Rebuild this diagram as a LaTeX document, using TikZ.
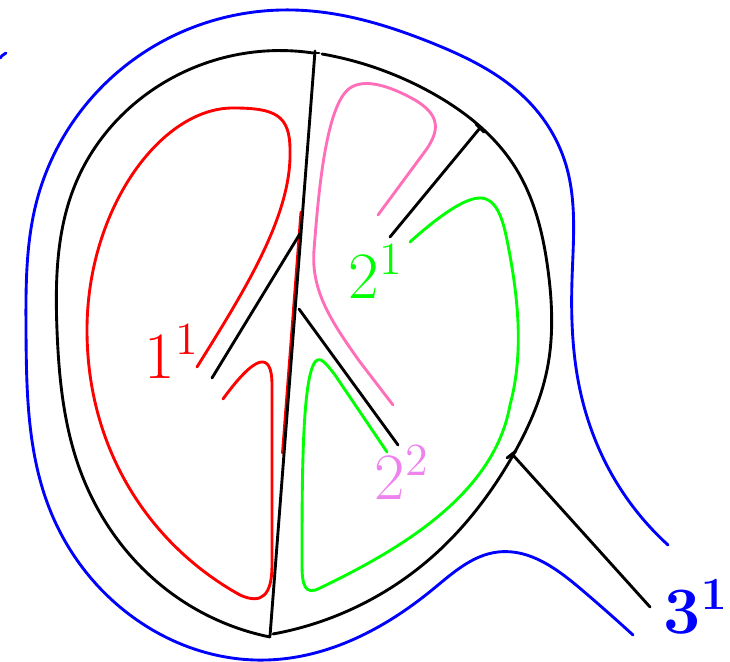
\documentclass[tikz,border=0pt]{standalone}
\usepackage{amsmath}
\usetikzlibrary{hobby}
\definecolor{pinkline}{RGB}{255,110,185}
\definecolor{violetlab}{RGB}{238,130,238}
\begin{document}
\begin{tikzpicture}[
  x=0.011cm, y=-0.011cm,
  curve/.style={line width=0.9pt, line cap=round, line join=round},
  lab/.style={font=\fontsize{19.4}{23}\selectfont, inner sep=0pt},
]
  \useasboundingbox (0,0) rectangle (730,662);

  % outer blue loop
  \draw[curve, blue, use Hobby shortcut] (668,545) .. (615,480) .. (580,390)
    .. (572,280) .. (566,165) .. (530,103) .. (432,43) .. (293,10)
    .. (133,60) .. (37,200) .. (26,330) .. (50,510) .. (130,615)
    .. (267,660) .. (432,590) .. (498,552) .. (582,590) .. (633,635);
  \draw[curve, blue] (0,58) to[bend left=10] (6,53);

  % black teardrop
  \draw[curve, use Hobby shortcut] (313,53) .. (160,85) .. (75,185)
    .. (57,330) .. (80,470) .. (167,590) .. (270,637);
  \draw[curve, use Hobby shortcut] (322,54) .. (432,93) .. (515,167)
    .. (548,270) .. (547,370) .. (512,457) .. (432,557) .. (273,634);

  % red loops
  \draw[curve, red] (301,212) -- (282.5,453);
  \draw[curve, red] (197,367) .. controls (245,290) and (292,215) .. (290,150)
    .. controls (290,115) and (275,108) .. (233,108)
    .. controls (160,108) and (87,210) .. (87,330)
    .. controls (87,450) and (150,545) .. (240,595)
    .. controls (262,605) and (272,595) .. (272,565) -- (272,385)
    .. controls (272,350) and (255,355) .. (223,399);

  % pink
  \draw[curve, pinkline] (378,215) -- (426,150)
    .. controls (440,130) and (440,115) .. (415,100)
    .. controls (390,86) and (365,78) .. (350,88)
    .. controls (325,105) and (318,200) .. (314,250)
    .. controls (311,290) and (330,320) .. (360,362) -- (393,405);

  % green
  \draw[curve, green] (410,242) .. controls (440,215) and (465,198) .. (480,198)
    .. controls (495,198) and (502,215) .. (507,240)
    .. controls (517,290) and (525,350) .. (510,405)
    .. controls (495,490) and (410,545) .. (320,588)
    .. controls (305,596) and (302,585) .. (302,565)
    .. controls (302,480) and (302,380) .. (315,362)
    .. controls (320,356) and (325,362) .. (335,375) -- (387,452);

  % black chords and cuts
  \draw[curve] (315,51) -- (270,636);
  \draw[curve] (311,53) -- (319,53);
  \draw[curve] (212,378) -- (301,232);
  \draw[curve] (299,309) -- (398,445);
  \draw[curve] (390,237) -- (480,128);
  \draw[curve] (476,124) -- (484,132);
  \draw[curve] (512,454) -- (650,607);
  \draw[curve] (507,458) -- (516,451);

  % labels
  \node[lab, red]       (l11) at (172,352) {$1^1$};
  \node[lab, green]     (l21) at (376,272) {$2^1$};
  \node[lab, violetlab] (l22) at (402,473) {$2^2$};
  \node[lab, blue]      (l31) at (696,607) {$\mathbf{3}^{\mathbf{1}}$};
\end{tikzpicture}
\end{document}
